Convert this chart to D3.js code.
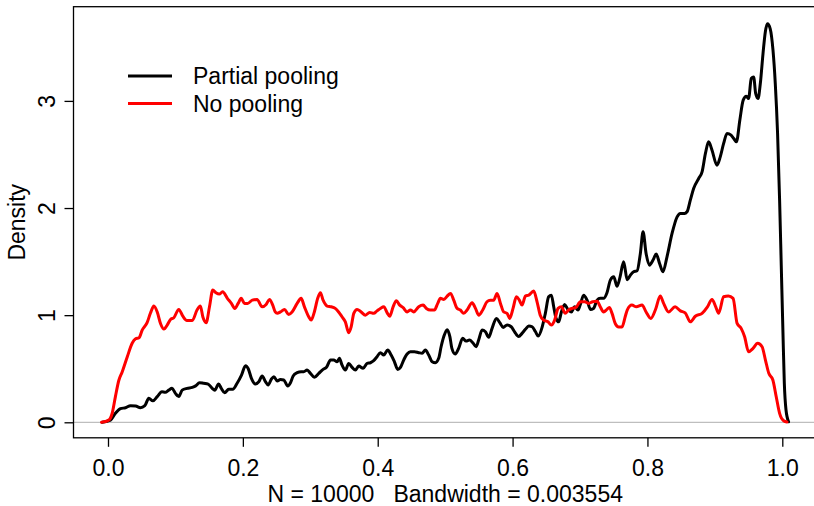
<!DOCTYPE html>
<html>
<head>
<meta charset="utf-8">
<script src="https://cdn.jsdelivr.net/npm/d3@7"></script>
<style>
  body { margin: 0; background: #fff; }
  svg { display: block; font-family: 'Liberation Sans', Arial, Helvetica, sans-serif; }
  .tick-label { font-size: 23px; fill: #000; }
  .label { font-size: 23px; fill: #000; white-space: pre; }
</style>
</head>
<body>
<svg width="814" height="506"></svg>
<script>
'use strict'

// density estimates: [x, density]
const partialPooling = [
    [-0.0086, 0], [0.0037, 0.02], [0.011, 0.084], [0.0185, 0.127], [0.026, 0.136], [0.0334, 0.155],
    [0.041, 0.152], [0.048, 0.136], [0.0546, 0.155], [0.0605, 0.224], [0.0665, 0.20], [0.073, 0.24],
    [0.080, 0.285], [0.085, 0.28], [0.090, 0.30], [0.095, 0.317], [0.100, 0.27], [0.105, 0.24],
    [0.110, 0.30], [0.1174, 0.317], [0.125, 0.326], [0.130, 0.34], [0.1357, 0.37], [0.142, 0.364],
    [0.1485, 0.357], [0.1545, 0.317], [0.1583, 0.30], [0.164, 0.357], [0.168, 0.317], [0.173, 0.276],
    [0.179, 0.308], [0.185, 0.308], [0.1915, 0.364], [0.198, 0.44], [0.204, 0.528], [0.208, 0.50],
    [0.2127, 0.41], [0.2187, 0.357], [0.2236, 0.379], [0.2286, 0.432], [0.2335, 0.379], [0.2375, 0.348],
    [0.2424, 0.404], [0.246, 0.425], [0.251, 0.385], [0.2557, 0.40], [0.2606, 0.395], [0.2666, 0.339],
    [0.2706, 0.37], [0.2746, 0.432], [0.2805, 0.463], [0.2864, 0.472], [0.2903, 0.472], [0.2953, 0.488],
    [0.3002, 0.457], [0.306, 0.42], [0.3126, 0.457], [0.319, 0.494], [0.324, 0.513], [0.330, 0.581],
    [0.3348, 0.581], [0.3397, 0.565], [0.3432, 0.597], [0.347, 0.535], [0.352, 0.488], [0.357, 0.55],
    [0.362, 0.513], [0.367, 0.488], [0.3718, 0.525], [0.3784, 0.504], [0.3843, 0.55], [0.3892, 0.556],
    [0.394, 0.575], [0.399, 0.612], [0.404, 0.65], [0.409, 0.628], [0.4148, 0.674], [0.4199, 0.628],
    [0.4248, 0.565], [0.4297, 0.494], [0.4337, 0.513], [0.4385, 0.581], [0.4436, 0.637], [0.4485, 0.659],
    [0.4544, 0.659], [0.4608, 0.65], [0.4658, 0.644], [0.4707, 0.674], [0.4756, 0.628], [0.4807, 0.565],
    [0.4855, 0.556], [0.4904, 0.597], [0.494, 0.705], [0.498, 0.80], [0.503, 0.865], [0.507, 0.80],
    [0.510, 0.69], [0.515, 0.637], [0.520, 0.69], [0.526, 0.784], [0.531, 0.758], [0.536, 0.768],
    [0.541, 0.743], [0.546, 0.705], [0.5497, 0.768], [0.5548, 0.861], [0.5597, 0.845], [0.5646, 0.793],
    [0.5696, 0.877], [0.576, 0.97], [0.581, 0.93], [0.586, 0.886], [0.5918, 0.908], [0.598, 0.892],
    [0.603, 0.845], [0.609, 0.80], [0.614, 0.83], [0.619, 0.868], [0.624, 0.90], [0.629, 0.892],
    [0.634, 0.845], [0.638, 0.805], [0.644, 0.892], [0.6486, 1.017], [0.6535, 1.172], [0.6575, 1.187],
    [0.661, 1.078], [0.6645, 0.97], [0.6683, 0.938], [0.6724, 1.03], [0.6772, 1.10], [0.682, 1.054],
    [0.6872, 1.03], [0.692, 1.078], [0.697, 1.048], [0.7005, 1.10], [0.7054, 1.187], [0.7105, 1.14],
    [0.7154, 1.054], [0.720, 1.063], [0.7253, 1.14], [0.730, 1.157], [0.735, 1.157], [0.740, 1.21],
    [0.745, 1.327], [0.750, 1.358], [0.755, 1.27], [0.7595, 1.36], [0.7647, 1.498], [0.770, 1.33],
    [0.7747, 1.374], [0.7795, 1.405], [0.7846, 1.414], [0.7895, 1.576], [0.7935, 1.778], [0.798, 1.576],
    [0.803, 1.467], [0.8083, 1.514], [0.813, 1.57], [0.818, 1.483], [0.823, 1.405], [0.829, 1.545],
    [0.8365, 1.763], [0.844, 1.918], [0.8488, 1.95], [0.855, 1.95], [0.8587, 1.965], [0.8636, 2.074],
    [0.8685, 2.183], [0.876, 2.276], [0.881, 2.338], [0.886, 2.51], [0.8907, 2.618], [0.8958, 2.54],
    [0.903, 2.40], [0.908, 2.478], [0.913, 2.603], [0.918, 2.696], [0.924, 2.68], [0.928, 2.649],
    [0.932, 2.618], [0.937, 2.82], [0.942, 3.007], [0.9466, 3.044], [0.950, 3.022], [0.954, 3.209],
    [0.9575, 3.224], [0.9605, 3.069], [0.964, 3.022], [0.9674, 3.162], [0.9714, 3.442], [0.9748, 3.644],
    [0.978, 3.72], [0.982, 3.675], [0.9862, 3.473], [0.9896, 3.162], [0.993, 2.696], [0.996, 2.074],
    [0.9985, 1.452], [1.001, 0.83], [1.003, 0.364], [1.0055, 0.115], [1.0093, 0.005]
]

const noPooling = [
    [-0.0096, 0], [0.001, 0.02], [0.006, 0.08], [0.011, 0.24], [0.016, 0.39], [0.021, 0.47],
    [0.0285, 0.61], [0.036, 0.74], [0.041, 0.78], [0.046, 0.79], [0.0507, 0.86], [0.058, 0.93],
    [0.063, 1.02], [0.068, 1.085], [0.073, 1.03], [0.078, 0.92], [0.083, 0.87], [0.088, 0.91],
    [0.0927, 0.96], [0.0976, 0.976], [0.105, 1.054], [0.111, 0.99], [0.117, 0.95], [0.125, 0.95],
    [0.132, 1.048], [0.137, 1.085], [0.1406, 0.985], [0.1456, 0.93], [0.1505, 1.078], [0.1554, 1.234],
    [0.160, 1.21], [0.165, 1.197], [0.170, 1.218], [0.177, 1.157], [0.183, 1.11], [0.188, 1.063],
    [0.193, 1.11], [0.1975, 1.157], [0.2024, 1.11], [0.207, 1.11], [0.214, 1.14], [0.221, 1.147],
    [0.2286, 1.078], [0.2345, 1.10], [0.2394, 1.147], [0.2443, 1.094], [0.248, 1.03], [0.251, 1.017],
    [0.2557, 1.03], [0.2617, 1.054], [0.268, 1.007], [0.273, 1.03], [0.2805, 1.11], [0.2864, 1.157],
    [0.2913, 1.078], [0.2977, 0.985], [0.3012, 0.954], [0.306, 1.03], [0.311, 1.157], [0.315, 1.21],
    [0.319, 1.14], [0.325, 1.085], [0.331, 1.078], [0.337, 1.063], [0.342, 1.03], [0.347, 0.985],
    [0.352, 0.938], [0.357, 0.836], [0.3606, 0.89], [0.3645, 1.017], [0.3694, 1.054], [0.3754, 1.03],
    [0.3818, 1.0], [0.388, 1.026], [0.394, 1.017], [0.399, 1.04], [0.404, 1.063], [0.409, 1.078],
    [0.414, 1.022], [0.4178, 0.99], [0.4228, 1.078], [0.4277, 1.134], [0.4326, 1.094], [0.4377, 1.07],
    [0.4436, 1.03], [0.4485, 1.048], [0.4534, 1.03], [0.4608, 1.078], [0.4673, 1.094], [0.4722, 1.063],
    [0.478, 1.048], [0.484, 1.048], [0.489, 1.11], [0.493, 1.157], [0.498, 1.147], [0.503, 1.178],
    [0.508, 1.203], [0.5127, 1.14], [0.5177, 1.063], [0.5226, 1.048], [0.5275, 1.017], [0.5325, 1.048],
    [0.540, 1.116], [0.545, 1.063], [0.5497, 1.0], [0.5557, 1.048], [0.562, 1.125], [0.567, 1.14],
    [0.572, 1.14], [0.577, 1.203], [0.582, 1.11], [0.5868, 1.03], [0.5918, 1.017], [0.5957, 0.97],
    [0.6007, 1.063], [0.6056, 1.172], [0.610, 1.14], [0.614, 1.094], [0.619, 1.178], [0.624, 1.187],
    [0.6313, 1.225], [0.6363, 1.125], [0.641, 1.0], [0.646, 0.954], [0.6526, 0.938], [0.6575, 0.908],
    [0.6624, 0.954], [0.6675, 1.063], [0.6724, 1.078], [0.678, 1.017], [0.683, 1.048], [0.688, 1.063],
    [0.694, 1.072], [0.7005, 1.125], [0.707, 1.125], [0.7128, 1.11], [0.7187, 1.125], [0.7253, 1.13],
    [0.730, 1.078], [0.735, 1.03], [0.740, 1.054], [0.7435, 1.072], [0.7475, 1.017], [0.7524, 0.92],
    [0.7573, 0.89], [0.7623, 0.89], [0.767, 0.985], [0.770, 1.048], [0.777, 1.094], [0.7835, 1.078],
    [0.792, 1.094], [0.798, 1.03], [0.805, 0.97], [0.8117, 1.048], [0.819, 1.178], [0.824, 1.11],
    [0.8314, 1.03], [0.841, 1.078], [0.8488, 1.04], [0.856, 1.022], [0.8636, 0.938], [0.871, 0.99],
    [0.881, 1.017], [0.889, 1.078], [0.8958, 1.147], [0.9013, 1.078], [0.9056, 1.017], [0.913, 1.172],
    [0.920, 1.18], [0.927, 1.157], [0.933, 0.923], [0.939, 0.877], [0.944, 0.80], [0.950, 0.659],
    [0.9566, 0.69], [0.9634, 0.737], [0.970, 0.705], [0.975, 0.581], [0.980, 0.457], [0.986, 0.395],
    [0.991, 0.239], [0.996, 0.084], [1.002, 0.015], [1.007, 0.003]
]

const seriesNames = ['Partial pooling', 'No pooling']
const seriesColors = ['#000000', '#ff0000']
const xTicks = [0, 0.2, 0.4, 0.6, 0.8, 1.0]
const yTicks = [0, 1, 2, 3]
const xLabel = 'N = 10000   Bandwidth = 0.003554'
const yLabel = 'Density'

const svg = d3.select('svg')

// plot region (R style, 4% padding on both axes)
const box = { left: 73.5, top: 6.7, right: 817, bottom: 437.8 }

const xScale = d3.scaleLinear()
    .domain([0, 1])
    .range([108, 782.3])

const yScale = d3.scaleLinear()
    .domain([0, 3])
    .range([422.3, 100.9])

// zero line
svg.append('line')
    .attr('x1', box.left)
    .attr('x2', box.right)
    .attr('y1', yScale(0))
    .attr('y2', yScale(0))
    .attr('stroke', '#bebebe')
    .attr('stroke-width', 1.2)

const line = d3.line()
    .x((d) => xScale(d[0]))
    .y((d) => yScale(d[1]))
    .curve(d3.curveMonotoneX)

svg.append('clipPath')
    .attr('id', 'plotclip')
    .append('rect')
    .attr('x', box.left)
    .attr('y', box.top)
    .attr('width', box.right - box.left)
    .attr('height', box.bottom - box.top)

const series = [partialPooling, noPooling]

svg.append('g')
    .attr('clip-path', 'url(#plotclip)')
    .selectAll('path')
    .data(series)
    .enter()
    .append('path')
    .attr('d', (d) => line(d))
    .attr('fill', 'none')
    .attr('stroke', (d, i) => seriesColors[i])
    .attr('stroke-width', 3)
    .attr('stroke-linejoin', 'round')
    .attr('stroke-linecap', 'round')

// box
svg.append('rect')
    .attr('x', box.left)
    .attr('y', box.top)
    .attr('width', box.right - box.left)
    .attr('height', box.bottom - box.top)
    .attr('fill', 'none')
    .attr('stroke', '#000')
    .attr('stroke-width', 1.3)

// x axis
const xAxis = d3.axisBottom(xScale)
    .tickValues(xTicks)
    .tickSize(9)
    .tickPadding(13)
    .tickFormat(d3.format('.1f'))

const gx = svg.append('g')
    .attr('transform', `translate(0, ${box.bottom})`)
    .call(xAxis)
gx.select('.domain').remove()
gx.selectAll('line').attr('stroke', '#000').attr('stroke-width', 1.3)
gx.selectAll('text')
    .attr('class', 'tick-label')
    .attr('font-size', null)
    .attr('font-family', null)
    .attr('dy', '0.71em')

// y axis, labels rotated like R's default
const yAxis = d3.axisLeft(yScale)
    .tickValues(yTicks)
    .tickSize(9)
    .tickFormat(d3.format('d'))

const gy = svg.append('g')
    .attr('transform', `translate(${box.left}, 0)`)
    .call(yAxis)
gy.select('.domain').remove()
gy.selectAll('line').attr('stroke', '#000').attr('stroke-width', 1.3)
gy.selectAll('text')
    .attr('class', 'tick-label')
    .attr('font-size', null)
    .attr('font-family', null)
    .attr('x', null)
    .attr('dy', null)
    .attr('text-anchor', 'middle')
    .attr('transform', 'translate(-18.5, 0) rotate(-90)')

// axis titles
svg.append('text')
    .attr('class', 'label')
    .attr('x', (box.left + box.right) / 2)
    .attr('y', 502)
    .attr('text-anchor', 'middle')
    .attr('xml:space', 'preserve')
    .text(xLabel)

svg.append('text')
    .attr('class', 'label')
    .attr('transform', `translate(25, ${(box.top + box.bottom) / 2}) rotate(-90)`)
    .attr('text-anchor', 'middle')
    .text(yLabel)

// legend
const legend = svg.append('g')
    .selectAll('g')
    .data(seriesNames)
    .enter()
    .append('g')
    .attr('transform', (d, i) => `translate(128, ${76 + i * 27.5})`)

legend.append('line')
    .attr('x1', 0)
    .attr('x2', 44)
    .attr('stroke', (d, i) => seriesColors[i])
    .attr('stroke-width', 3)

legend.append('text')
    .attr('class', 'label')
    .attr('x', 65)
    .attr('y', 8.3)
    .text((d) => d)
</script>
</body>
</html>
